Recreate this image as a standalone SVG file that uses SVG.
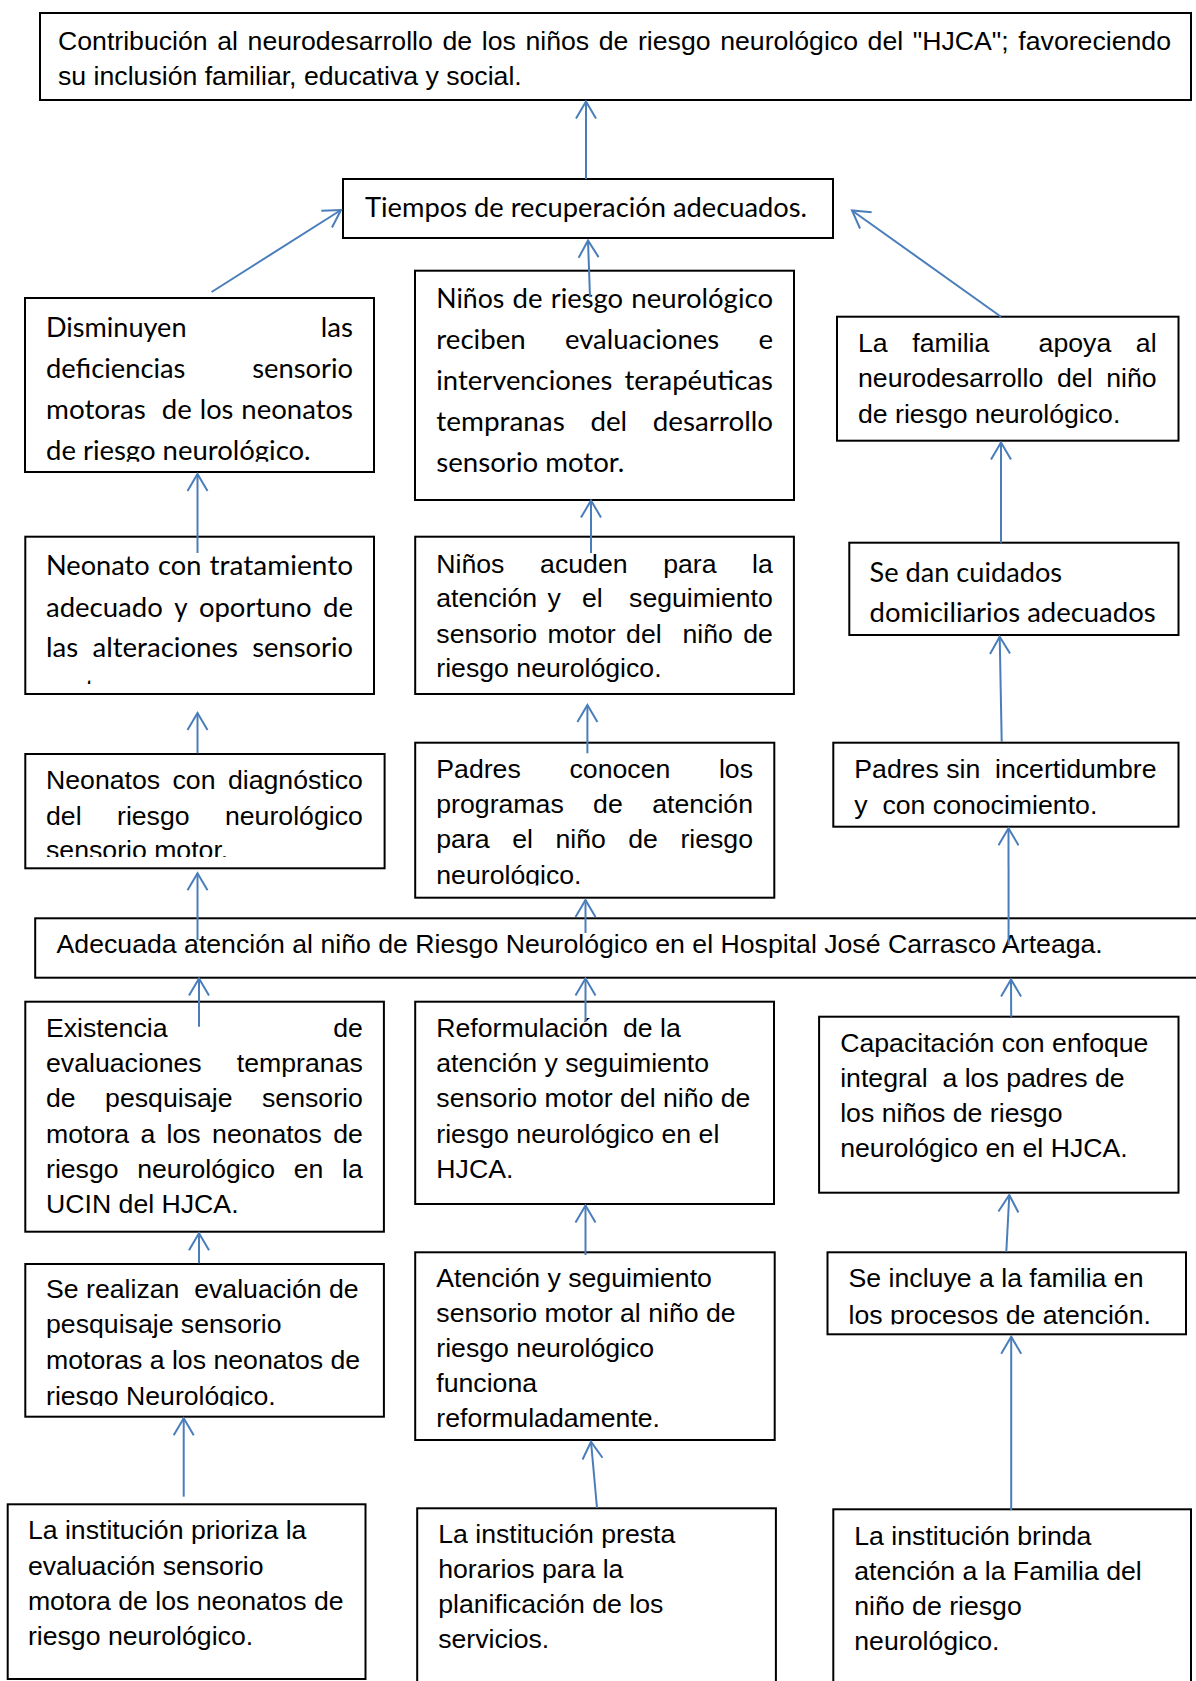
<svg xmlns="http://www.w3.org/2000/svg" width="1196" height="1681" viewBox="0 0 1196 1681">
<style>
.box{fill:#fff;stroke:#000;stroke-width:2}
.a{font-family:"Liberation Sans",Arial,sans-serif;font-size:26.67px;fill:#000}
.c{font-family:Lato,"Liberation Sans",sans-serif;font-size:27px;fill:#000}
.e{text-anchor:end}
.conn line{stroke:#4A7EBB;stroke-width:2;marker-end:url(#ah)}
</style>
<defs>
<marker id="ah" markerUnits="userSpaceOnUse" markerWidth="40" markerHeight="40" viewBox="0 0 40 40" refX="20" refY="20" orient="auto" overflow="visible"><path d="M3,10 L20,20 L3,30" fill="none" stroke="#4A7EBB" stroke-width="2"/></marker>
<clipPath id="clipC"><rect x="20" y="290" width="360" height="171.7"/></clipPath>
<clipPath id="clipF"><rect x="20" y="530" width="360" height="154"/></clipPath>
<clipPath id="clipG"><rect x="20" y="750" width="370" height="107"/></clipPath>
<clipPath id="clipI"><rect x="410" y="740" width="370" height="145.5"/></clipPath>
<clipPath id="clipL"><rect x="20" y="1260" width="370" height="146"/></clipPath>
<clipPath id="clipQ"><rect x="820" y="1250" width="370" height="74.5"/></clipPath>
</defs>
<rect width="1196" height="1681" fill="#fff"/>

<g id="n-top">
<rect class="box" x="40" y="13" width="1151" height="87"/>
<text class="a" x="58" y="50" style="word-spacing:2.2px">Contribución al neurodesarrollo de los niños de riesgo neurológico del "HJCA"; favoreciendo</text>
<text class="a" x="58" y="85">su inclusión familiar, educativa y social.</text>
</g>

<g id="n-tiempos">
<rect class="box" x="343" y="179" width="490" height="59"/>
<text class="c" x="365" y="217" textLength="442" lengthAdjust="spacingAndGlyphs">Tiempos de recuperación adecuados.</text>
</g>

<g id="n-disminuyen">
<rect class="box" x="25" y="298" width="349" height="174"/>
<text class="c" x="46" y="337" textLength="140.5" lengthAdjust="spacingAndGlyphs">Disminuyen</text>
<text class="c" x="320.8" y="337" textLength="32.2" lengthAdjust="spacingAndGlyphs">las</text>
<text class="c" x="46" y="378" textLength="139.4" lengthAdjust="spacingAndGlyphs">deficiencias</text>
<text class="c" x="252.2" y="378" textLength="100.8" lengthAdjust="spacingAndGlyphs">sensorio</text>
<text class="c" x="46" y="419" textLength="99.9" lengthAdjust="spacingAndGlyphs">motoras</text>
<text class="c" x="161.8" y="419" textLength="30" lengthAdjust="spacingAndGlyphs">de</text>
<text class="c" x="199.8" y="419" textLength="33.6" lengthAdjust="spacingAndGlyphs">los</text>
<text class="c" x="241.3" y="419" textLength="111.7" lengthAdjust="spacingAndGlyphs">neonatos</text>
<text class="c" x="46" y="460" textLength="264.6" lengthAdjust="spacingAndGlyphs" clip-path="url(#clipC)">de riesgo neurológico.</text>
</g>

<g id="n-ninos-reciben">
<rect class="box" x="415" y="270.7" width="379" height="229.3"/>
<text class="c" x="436.3" y="308" textLength="68" lengthAdjust="spacingAndGlyphs">Niños</text>
<text class="c" x="512.5" y="308" textLength="30" lengthAdjust="spacingAndGlyphs">de</text>
<text class="c" x="550.8" y="308" textLength="72.3" lengthAdjust="spacingAndGlyphs">riesgo</text>
<text class="c" x="631.3" y="308" textLength="141.7" lengthAdjust="spacingAndGlyphs">neurológico</text>
<text class="c" x="436.3" y="349" textLength="89.4" lengthAdjust="spacingAndGlyphs">reciben</text>
<text class="c" x="565" y="349" textLength="154.1" lengthAdjust="spacingAndGlyphs">evaluaciones</text>
<text class="c" x="758.4" y="349" textLength="14.6" lengthAdjust="spacingAndGlyphs">e</text>
<text class="c" x="436.3" y="390" textLength="176.1" lengthAdjust="spacingAndGlyphs">intervenciones</text>
<text class="c" x="624.4" y="390" textLength="148.6" lengthAdjust="spacingAndGlyphs">terapéuticas</text>
<text class="c" x="436.3" y="431" textLength="128.5" lengthAdjust="spacingAndGlyphs">tempranas</text>
<text class="c" x="590.4" y="431" textLength="36.7" lengthAdjust="spacingAndGlyphs">del</text>
<text class="c" x="652.7" y="431" textLength="120.3" lengthAdjust="spacingAndGlyphs">desarrollo</text>
<text class="c" x="436.3" y="472" textLength="188" lengthAdjust="spacingAndGlyphs">sensorio motor.</text>
</g>

<g id="n-familia">
<rect class="box" x="837" y="316.7" width="341.5" height="124"/>
<text class="a" y="351.7"><tspan x="858">La</tspan><tspan x="912.3">familia</tspan><tspan x="1038.6">apoya</tspan><tspan x="1156.6" class="e">al</tspan></text>
<text class="a" y="387"><tspan x="858">neurodesarrollo</tspan><tspan x="1057">del</tspan><tspan x="1156.6" class="e">niño</tspan></text>
<text class="a" x="858" y="422.7">de riesgo neurológico.</text>
</g>

<g id="n-neonato-trat">
<rect class="box" x="25.3" y="536.7" width="348.7" height="157.3"/>
<text class="c" x="46" y="575" textLength="103.7" lengthAdjust="spacingAndGlyphs">Neonato</text>
<text class="c" x="158" y="575" textLength="43.3" lengthAdjust="spacingAndGlyphs">con</text>
<text class="c" x="209.6" y="575" textLength="143.4" lengthAdjust="spacingAndGlyphs">tratamiento</text>
<text class="c" x="46" y="616.7" textLength="116.8" lengthAdjust="spacingAndGlyphs">adecuado</text>
<text class="c" x="174.2" y="616.7" textLength="13.3" lengthAdjust="spacingAndGlyphs">y</text>
<text class="c" x="198.9" y="616.7" textLength="112.6" lengthAdjust="spacingAndGlyphs">oportuno</text>
<text class="c" x="323" y="616.7" textLength="30" lengthAdjust="spacingAndGlyphs">de</text>
<text class="c" x="46" y="657.3" textLength="32.2" lengthAdjust="spacingAndGlyphs">las</text>
<text class="c" x="92.5" y="657.3" textLength="145.5" lengthAdjust="spacingAndGlyphs">alteraciones</text>
<text class="c" x="252.2" y="657.3" textLength="100.8" lengthAdjust="spacingAndGlyphs">sensorio</text>
<text class="c" x="46" y="698.5" textLength="107.3" lengthAdjust="spacingAndGlyphs" clip-path="url(#clipF)">motoras.</text>
</g>

<g id="n-ninos-acuden">
<rect class="box" x="415.2" y="536.7" width="378.7" height="157.3"/>
<text class="a" y="573.3"><tspan x="436.3">Niños</tspan><tspan x="540.1">acuden</tspan><tspan x="663.2">para</tspan><tspan x="772.8" class="e">la</tspan></text>
<text class="a" y="607.3"><tspan x="436.3">atención</tspan><tspan x="547.5">y</tspan><tspan x="582">el</tspan><tspan x="772.8" class="e">seguimiento</tspan></text>
<text class="a" y="642.7"><tspan x="436.3">sensorio</tspan><tspan x="547.5">motor</tspan><tspan x="626.1">del</tspan><tspan x="682.5">niño</tspan><tspan x="772.8" class="e">de</tspan></text>
<text class="a" x="436.3" y="676.7">riesgo neurológico.</text>
</g>

<g id="n-se-dan">
<rect class="box" x="849.3" y="542.7" width="329.2" height="92.3"/>
<text class="c" x="869.6" y="581.7" textLength="192.5" lengthAdjust="spacingAndGlyphs">Se dan cuidados</text>
<text class="c" x="869.6" y="621.7" textLength="286" lengthAdjust="spacingAndGlyphs">domiciliarios adecuados</text>
</g>

<g id="n-neonatos-diag">
<rect class="box" x="25.3" y="754" width="359.3" height="114.3"/>
<text class="a" y="789.3"><tspan x="46">Neonatos</tspan><tspan x="172.5">con</tspan><tspan x="362.8" class="e">diagnóstico</tspan></text>
<text class="a" y="825"><tspan x="46">del</tspan><tspan x="117">riesgo</tspan><tspan x="362.8" class="e">neurológico</tspan></text>
<text class="a" x="46" y="859" clip-path="url(#clipG)">sensorio motor.</text>
</g>

<g id="n-padres-conocen">
<rect class="box" x="415.2" y="742.7" width="359.1" height="155"/>
<text class="a" y="778.3"><tspan x="436.3">Padres</tspan><tspan x="569.5">conocen</tspan><tspan x="753" class="e">los</tspan></text>
<text class="a" y="813.3"><tspan x="436.3">programas</tspan><tspan x="593.1">de</tspan><tspan x="753" class="e">atención</tspan></text>
<text class="a" y="848.3"><tspan x="436.3">para</tspan><tspan x="512.2">el</tspan><tspan x="555.4">niño</tspan><tspan x="628.3">de</tspan><tspan x="753" class="e">riesgo</tspan></text>
<text class="a" x="436.3" y="884" clip-path="url(#clipI)">neurológico.</text>
</g>

<g id="n-padres-sin">
<rect class="box" x="833.3" y="742.7" width="345.2" height="84"/>
<text class="a" x="854.3" y="778.3" xml:space="preserve">Padres sin  incertidumbre</text>
<text class="a" x="854.3" y="814.3" xml:space="preserve">y  con conocimiento.</text>
</g>

<g id="n-adecuada">
<rect class="box" x="35.2" y="918.3" width="1175" height="59.4"/>
<text class="a" x="56.6" y="953.3">Adecuada atención al niño de Riesgo Neurológico en el Hospital José Carrasco Arteaga.</text>
</g>

<g id="n-existencia">
<rect class="box" x="25.3" y="1001.7" width="358.6" height="230"/>
<text class="a" y="1036.7"><tspan x="46">Existencia</tspan><tspan x="362.8" class="e">de</tspan></text>
<text class="a" y="1071.7"><tspan x="46">evaluaciones</tspan><tspan x="362.8" class="e">tempranas</tspan></text>
<text class="a" y="1106.7"><tspan x="46">de</tspan><tspan x="105.1">pesquisaje</tspan><tspan x="362.8" class="e">sensorio</tspan></text>
<text class="a" y="1142.7"><tspan x="46">motora</tspan><tspan x="140.4">a</tspan><tspan x="166.6">los</tspan><tspan x="212.1">neonatos</tspan><tspan x="362.8" class="e">de</tspan></text>
<text class="a" y="1177.7"><tspan x="46">riesgo</tspan><tspan x="137.2">neurológico</tspan><tspan x="293.7">en</tspan><tspan x="362.8" class="e">la</tspan></text>
<text class="a" x="46" y="1213.3">UCIN del HJCA.</text>
</g>

<g id="n-reformulacion">
<rect class="box" x="415.2" y="1001.7" width="358.8" height="202.3"/>
<text class="a" x="436.3" y="1036.7" xml:space="preserve">Reformulación  de la</text>
<text class="a" x="436.3" y="1071.7">atención y seguimiento</text>
<text class="a" x="436.3" y="1106.7">sensorio motor del niño de</text>
<text class="a" x="436.3" y="1142.7">riesgo neurológico en el</text>
<text class="a" x="436.3" y="1177.7">HJCA.</text>
</g>

<g id="n-capacitacion">
<rect class="box" x="819.1" y="1016.7" width="359.4" height="176"/>
<text class="a" x="840.2" y="1051.7">Capacitación con enfoque</text>
<text class="a" x="840.2" y="1086.7" xml:space="preserve">integral  a los padres de</text>
<text class="a" x="840.2" y="1121.7">los niños de riesgo</text>
<text class="a" x="840.2" y="1156.7">neurológico en el HJCA.</text>
</g>

<g id="n-se-realizan">
<rect class="box" x="25.3" y="1264" width="358.6" height="152.7"/>
<text class="a" x="46" y="1298.3" xml:space="preserve">Se realizan  evaluación de</text>
<text class="a" x="46" y="1333.3">pesquisaje sensorio</text>
<text class="a" x="46" y="1369.3">motoras a los neonatos de</text>
<text class="a" x="46" y="1405" clip-path="url(#clipL)">riesgo Neurológico.</text>
</g>

<g id="n-atencion">
<rect class="box" x="415.2" y="1252.3" width="359.5" height="187.7"/>
<text class="a" x="436.3" y="1286.7">Atención y seguimiento</text>
<text class="a" x="436.3" y="1321.7">sensorio motor al niño de</text>
<text class="a" x="436.3" y="1356.7">riesgo neurológico</text>
<text class="a" x="436.3" y="1391.7">funciona</text>
<text class="a" x="436.3" y="1426.7">reformuladamente.</text>
</g>

<g id="n-se-incluye">
<rect class="box" x="827.5" y="1252.3" width="358.5" height="82"/>
<text class="a" x="848.6" y="1287.3">Se incluye a la familia en</text>
<text class="a" x="848.6" y="1323.5" clip-path="url(#clipQ)">los procesos de atención.</text>
</g>

<g id="n-prioriza">
<rect class="box" x="7.7" y="1504.3" width="357.8" height="174.7"/>
<text class="a" x="27.9" y="1539.3">La institución prioriza la</text>
<text class="a" x="27.9" y="1575">evaluación sensorio</text>
<text class="a" x="27.9" y="1610">motora de los neonatos de</text>
<text class="a" x="27.9" y="1645">riesgo neurológico.</text>
</g>

<g id="n-presta">
<rect class="box" x="417.2" y="1508.3" width="358.7" height="190"/>
<text class="a" x="438.2" y="1542.7">La institución presta</text>
<text class="a" x="438.2" y="1578.3">horarios para la</text>
<text class="a" x="438.2" y="1613.3">planificación de los</text>
<text class="a" x="438.2" y="1648.3">servicios.</text>
</g>

<g id="n-brinda">
<rect class="box" x="833.3" y="1509.3" width="357.7" height="190"/>
<text class="a" x="854.3" y="1545">La institución brinda</text>
<text class="a" x="854.3" y="1580">atención a la Familia del</text>
<text class="a" x="854.3" y="1615">niño de riesgo</text>
<text class="a" x="854.3" y="1650">neurológico.</text>
</g>

<g id="connectors" class="conn">
<line x1="586" y1="179" x2="586" y2="101.5"/>
<line x1="211.6" y1="292" x2="341" y2="210"/>
<line x1="590" y1="297" x2="588" y2="240.5"/>
<line x1="1001" y1="316.7" x2="852" y2="210.5"/>
<line x1="197.5" y1="553" x2="197.5" y2="474"/>
<line x1="591" y1="553" x2="591" y2="500.5"/>
<line x1="1001" y1="542.7" x2="1001" y2="442.5"/>
<line x1="197.5" y1="753.3" x2="197.5" y2="713"/>
<line x1="587.4" y1="753.3" x2="587.4" y2="705"/>
<line x1="1001.7" y1="741.7" x2="999.7" y2="636.7"/>
<line x1="197.5" y1="940" x2="197.5" y2="873.3"/>
<line x1="585.5" y1="933" x2="585.5" y2="900"/>
<line x1="1008.6" y1="945" x2="1008.5" y2="828.3"/>
<line x1="199" y1="1026.7" x2="199" y2="978.5"/>
<line x1="585.5" y1="1021.7" x2="585.5" y2="978.5"/>
<line x1="1011.2" y1="1016.7" x2="1011" y2="979.5"/>
<line x1="199" y1="1263.3" x2="199" y2="1233.3"/>
<line x1="585.5" y1="1255" x2="585.5" y2="1205.5"/>
<line x1="1006.3" y1="1251.7" x2="1009.3" y2="1195"/>
<line x1="183.7" y1="1496.7" x2="183.7" y2="1418.3"/>
<line x1="597" y1="1508" x2="591" y2="1441.7"/>
<line x1="1011.2" y1="1510" x2="1011.2" y2="1336.7"/>
</g>
</svg>
